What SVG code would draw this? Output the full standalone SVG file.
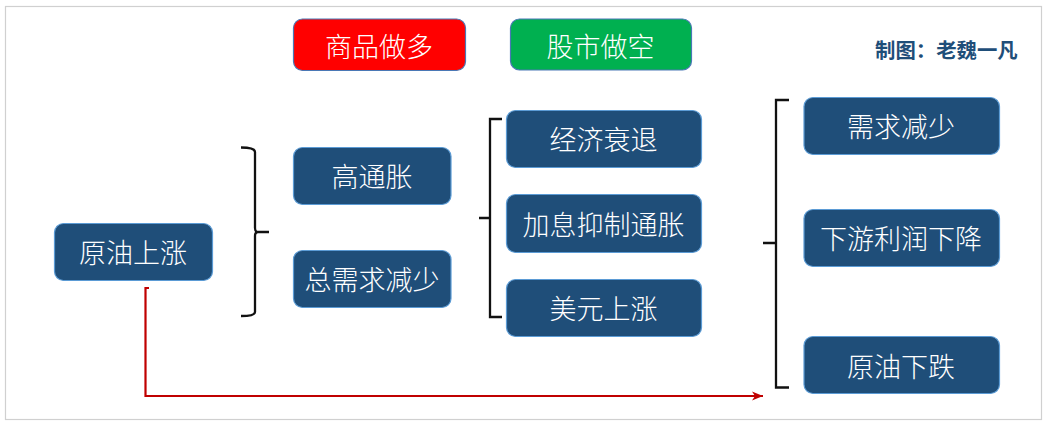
<svg xmlns="http://www.w3.org/2000/svg" width="1054" height="431" viewBox="0 0 1054 431">
<style>
.n{fill:#1f4e79;stroke:#5b9bd5;stroke-width:1.2}
.t{font-family:"Noto Sans CJK SC","Noto Sans",sans-serif;font-size:27px;font-weight:300;fill:#fff;text-anchor:middle;dominant-baseline:central}
.k{fill:none;stroke:#111;stroke-width:2.300}
.r{fill:none;stroke:#c00000;stroke-width:2.200}
</style>
<defs><marker id="a" markerWidth="13" markerHeight="10" refX="11" refY="5" orient="auto" markerUnits="userSpaceOnUse"><path d="M0 0.500L11 5L0 9.500L3 5Z" fill="#c00000"/></marker></defs>
<rect width="1054" height="431" fill="#fff"/>
<rect x="5.500" y="6.500" width="1036" height="413" fill="none" stroke="#d0d0d0" stroke-width="1.200"/>
<g id="connectors">
<path class="k" d="M241 147.500Q255 147.500 255 152V228Q255 232 258 232H269M258 232Q255 232 255 236V312Q255 316 241 316"/>
<path class="k" d="M502 119H490V317H502M479 218H490"/>
<path class="k" d="M789 100H776V387.500H789M763 243H776"/>
<path class="r" d="M149 288H145.500V396H763" marker-end="url(#a)"/>
</g>
<g id="n1"><rect class="n" x="54.500" y="223.500" width="158" height="57" rx="9"/><text class="t" x="133" y="251.500">原油上涨</text></g>
<g id="n2"><rect class="n" x="293.500" y="147.500" width="157.500" height="57" rx="9"/><text class="t" x="372" y="175">高通胀</text></g>
<g id="n3"><rect class="n" x="293.500" y="250.500" width="157.500" height="57" rx="9"/><text class="t" x="372" y="278">总需求减少</text></g>
<g id="n4"><rect class="n" x="506.500" y="110.500" width="195" height="57" rx="9"/><text class="t" x="603.500" y="138">经济衰退</text></g>
<g id="n5"><rect class="n" x="506.500" y="194.500" width="195" height="58" rx="9"/><text class="t" x="603.500" y="223">加息抑制通胀</text></g>
<g id="n6"><rect class="n" x="506.500" y="279.500" width="195" height="57" rx="9"/><text class="t" x="603.500" y="307">美元上涨</text></g>
<g id="n7"><rect class="n" x="804" y="97.500" width="195.500" height="57" rx="9"/><text class="t" x="901" y="125">需求减少</text></g>
<g id="n8"><rect class="n" x="804" y="209.500" width="195.500" height="57" rx="9"/><text class="t" x="901" y="237">下游利润下降</text></g>
<g id="n9"><rect class="n" x="804" y="336.500" width="195.500" height="57" rx="9"/><text class="t" x="901" y="365">原油下跌</text></g>
<g id="n10"><rect x="293.500" y="19" width="172" height="51.500" rx="9" fill="#ff0000" stroke="#4a78b5" stroke-width="1.200"/><text class="t" x="379" y="45">商品做多</text></g>
<g id="n11"><rect x="510.500" y="19" width="181" height="51" rx="9" fill="#00b050" stroke="#4a78b5" stroke-width="1.200"/><text class="t" x="600.500" y="45">股市做空</text></g>
<g id="credit"><text x="875" y="58" font-family="'Noto Sans CJK SC',sans-serif" font-size="20.400" font-weight="700" fill="#1f4e79">制图：老魏一凡</text></g>
</svg>
